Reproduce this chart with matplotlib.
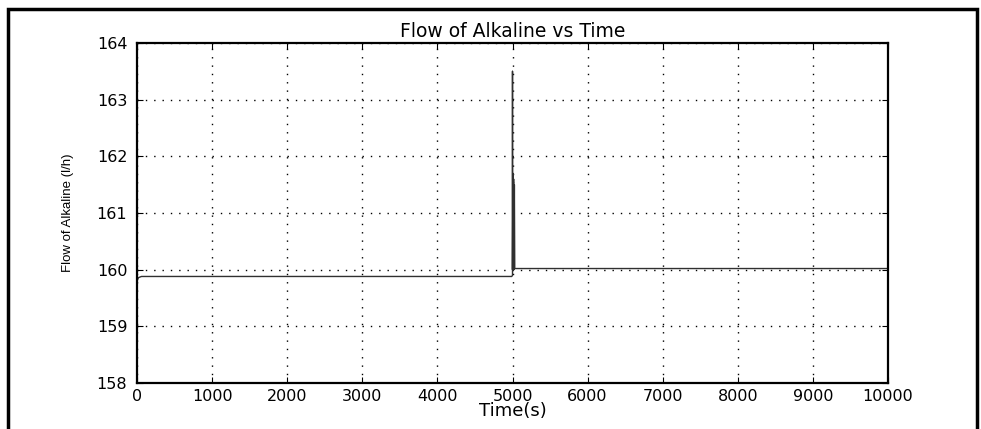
import numpy as np
import matplotlib
matplotlib.use("Agg")
import matplotlib.pyplot as plt
from matplotlib.patches import Rectangle

# alkaline flow trace, step change at t = 5000 s
time_s = [0, 20, 60, 4960, 4990, 5000, 5000, 5000, 5005, 5010, 5015, 5020, 5025, 5030, 10000]
flow_lh = [159.8, 159.86, 159.88, 159.88, 159.88, 159.9, 163.5, 160.0, 161.7, 160.0, 161.6, 160.0, 161.5, 160.02, 160.02]

x_ticks = [0, 1000, 2000, 3000, 4000, 5000, 6000, 7000, 8000, 9000, 10000]
y_ticks = [158, 159, 160, 161, 162, 163, 164]

plt.rcParams['font.family'] = ['DejaVu Sans']

fig = plt.figure(figsize=(9.81, 4.29), dpi=100)
ax = fig.add_axes([137/981, 1 - 383/429, 751/981, 340/429])

ax.plot(time_s, flow_lh, color='#303030', linewidth=1.0)

ax.set_xlim(0, 10000)
ax.set_ylim(158, 164)
ax.set_xticks(x_ticks)
ax.set_yticks(y_ticks)
ax.grid(True, color='black', linestyle=(0, (1, 5)), linewidth=1.0)
ax.tick_params(direction='in', length=4, width=0.8, top=True, right=True,
               labelsize=11.5)
ax.tick_params(axis='y', pad=7)
ax.tick_params(axis='x', pad=4)
for s in ax.spines.values():
    s.set_linewidth(1.6)

ax.set_title('Flow of Alkaline vs Time', fontsize=13.5, pad=4)
ax.set_xlabel('Time(s)', fontsize=13, labelpad=-1)
ax.set_ylabel('Flow of Alkaline (l/h)', fontsize=9.5,
              family=['Liberation Sans'], labelpad=16)

# outer frame around the figure
fig.patches.append(Rectangle((8/981, -0.05), 969/981, 1.05 - 9/429,
                             transform=fig.transFigure, fill=False,
                             edgecolor='black', linewidth=2.5))

fig.savefig('out.png', dpi=100)
